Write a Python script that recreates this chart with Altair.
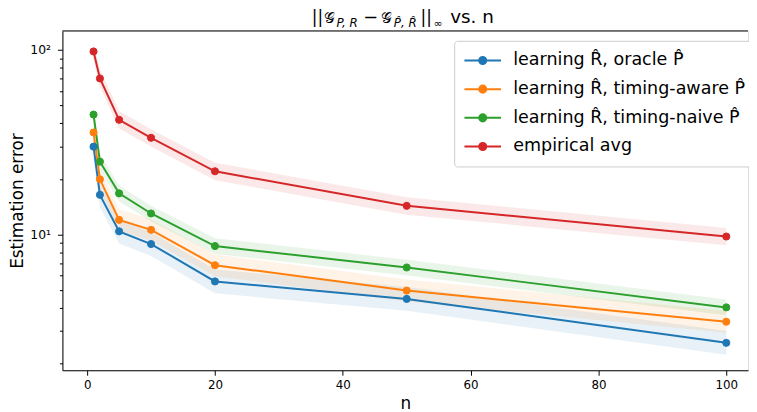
import altair as alt
import pandas as pd

# ---------------- data ----------------
n_values = [1, 2, 5, 10, 20, 50, 100]

series_names = [
    "learning R\u0302, oracle P\u0302",
    "learning R\u0302, timing-aware P\u0302",
    "learning R\u0302, timing-naive P\u0302",
    "empirical avg",
]
series_colors = ["#1f77b4", "#ff7f0e", "#2ca02c", "#d62728"]

oracle_mean = [29.9, 16.4, 10.4, 8.88, 5.57, 4.48, 2.59]
oracle_lo = [25.8, 14.1, 8.95, 7.65, 4.80, 3.86, 2.23]
oracle_hi = [34.7, 19.0, 12.1, 10.3, 6.46, 5.20, 3.00]

aware_mean = [35.7, 19.9, 12.0, 10.6, 6.82, 4.97, 3.37]
aware_lo = [31.5, 17.4, 10.5, 9.25, 5.95, 4.34, 2.94]
aware_hi = [40.5, 22.8, 13.7, 12.1, 7.80, 5.70, 3.86]

naive_mean = [44.6, 24.8, 16.7, 13.0, 8.66, 6.63, 4.03]
naive_lo = [40.5, 22.4, 15.1, 11.8, 7.85, 6.00, 3.65]
naive_hi = [49.0, 27.3, 18.4, 14.3, 9.55, 7.30, 4.45]

emp_mean = [98.0, 70.0, 41.8, 33.4, 22.0, 14.3, 9.75]
emp_lo = [88.0, 63.0, 37.5, 30.0, 19.7, 12.8, 8.75]
emp_hi = [109.0, 78.0, 46.6, 37.2, 24.5, 15.9, 10.85]

y_major = [10, 100]
y_minor = [2, 3, 4, 5, 6, 7, 8, 9, 20, 30, 40, 50, 60, 70, 80, 90]
x_ticks = [0, 20, 40, 60, 80, 100]

rows = []
for name, m, lo, hi in zip(
    series_names,
    [oracle_mean, aware_mean, naive_mean, emp_mean],
    [oracle_lo, aware_lo, naive_lo, emp_lo],
    [oracle_hi, aware_hi, naive_hi, emp_hi],
):
    for n, a, b, c in zip(n_values, m, lo, hi):
        rows.append({"series": name, "n": n, "mean": a, "lo": b, "hi": c})
df = pd.DataFrame(rows)

# ---------------- layout ----------------
W, H = 693, 343
FONT = "DejaVu Sans"

x_scale = alt.Scale(domain=[-3.87, 103.4], nice=False, zero=False)
y_scale = alt.Scale(type="log", domain=[1.84, 126.6], nice=False)

fill_scale = alt.Scale(domain=series_names, range=series_colors)
stroke_scale = alt.Scale(domain=series_names, range=series_colors)

legend_path = "M-3.7,0L3.7,0M-0.72,0A0.72,0.72,0,1,1,0.72,0A0.72,0.72,0,1,1,-0.72,0Z"
legend = alt.Legend(
    title=None,
    orient="none",
    legendX=396,
    legendY=10,
    symbolType=legend_path,
    symbolSize=100,
    symbolStrokeWidth=2,
    symbolOpacity=1,
    symbolOffset=9,
    labelOffset=22,
    labelFont=FONT,
    labelFontSize=17.7,
    labelColor="#000000",
    labelLimit=400,
    rowPadding=10,
    padding=11,
    strokeColor="#cccccc",
    fillColor="#ffffff",
    cornerRadius=3,
)

x_axis = alt.Axis(
    values=x_ticks,
    title="n",
    titleFont=FONT,
    titleFontSize=17,
    titleFontWeight="normal",
    titleColor="#000000",
    titlePadding=6,
    labelFont=FONT,
    labelFontSize=12,
    labelColor="#000000",
    labelPadding=4,
    tickSize=5,
    tickColor="#000000",
    domainColor="#000000",
    grid=False,
    labelFlush=False,
)

y_axis = alt.Axis(
    values=y_minor + y_major,
    labelExpr="datum.value == 10 ? '10\u00b9' : (datum.value == 100 ? '10\u00b2' : '')",
    tickSize={"condition": {"test": "datum.value == 10 || datum.value == 100", "value": 5}, "value": 3},
    title="Estimation error",
    titleFont=FONT,
    titleFontSize=17,
    titleFontWeight="normal",
    titleColor="#000000",
    titlePadding=3,
    labelFont=FONT,
    labelFontSize=12.5,
    labelColor="#000000",
    labelPadding=7,
    tickColor="#000000",
    domainColor="#000000",
    grid=False,
    labelOverlap=False,
    labelFlush=False,
)

base = alt.Chart(df)

bands = base.mark_area(fillOpacity=0.1, strokeWidth=0).encode(
    x=alt.X("n:Q", scale=x_scale, axis=x_axis),
    y=alt.Y("lo:Q", scale=y_scale, axis=y_axis),
    y2="hi:Q",
    fill=alt.Fill("series:N", scale=fill_scale, legend=legend, sort=series_names),
)

lines = base.mark_line(strokeWidth=2).encode(
    x="n:Q",
    y="mean:Q",
    stroke=alt.Stroke("series:N", scale=stroke_scale, legend=legend, sort=series_names),
    detail="series:N",
)

points = base.mark_circle(size=52, opacity=1, strokeWidth=1).encode(
    x="n:Q",
    y="mean:Q",
    fill=alt.Fill("series:N", scale=fill_scale, legend=legend, sort=series_names),
    stroke=alt.Stroke("series:N", scale=stroke_scale, legend=legend, sort=series_names),
)

top_spine = alt.Chart(pd.DataFrame({"a": [0]})).mark_rule(color="#000000", strokeWidth=1).encode(
    x=alt.value(0), x2=alt.value(W), y=alt.value(0)
)

# title pieces (math-like title); x/y are pixels relative to the plot area
def piece(text, x, y, size, style="normal"):
    return alt.Chart(pd.DataFrame({"t": [text]})).mark_text(
        font=FONT, fontSize=size, fontStyle=style, align="left", baseline="alphabetic", color="#000000"
    ).encode(text="t:N", x=alt.value(x), y=alt.value(y))

title_layers = [
    piece("||", 252, -8, 17),
    piece("\U0001D4A2", 264, -8, 15),
    piece("P, R", 277, -4, 12, "italic"),
    piece("\u2212", 304, -8, 18),
    piece("\U0001D4A2", 322, -8, 15),
    piece("P\u0302, R\u0302", 335, -4, 12, "italic"),
    piece("||", 362, -8, 17),
    piece("\u221e", 375, -4, 11),
    piece("vs. n", 392, -8, 18.5),
]

chart = alt.layer(bands, lines, points, top_spine, *title_layers).properties(
    width=W,
    height=H,
    autosize=alt.AutoSizeParams(type="none"),
    padding={"left": 55, "top": 21, "right": 1, "bottom": 40},
).configure_view(stroke=None).configure(background="#ffffff")

chart.save("out.html", embed_options={"renderer": "svg", "actions": False})
